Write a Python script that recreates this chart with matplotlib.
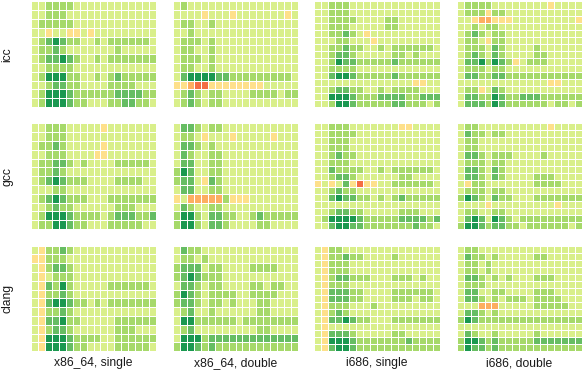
import numpy as np
import matplotlib
matplotlib.use("Agg")
import matplotlib.pyplot as plt
from matplotlib.colors import ListedColormap, BoundaryNorm

plt.rcParams['font.family'] = ['Liberation Sans', 'DejaVu Sans']

compilers = ["icc", "gcc", "clang"]
targets = ["x86_64, single", "x86_64, double", "i686, single", "i686, double"]

# Level codes per cell: 0..3 = increasingly good (green), y/o/r = worse (yellow, orange, red)
icc_x64_single = ["001111000000000000","001110000000000000","011111000000000000","00y00yy0y000000000",
"012321100101111110","011210000000100000","012232100101111111","001111000000000000",
"013331100101211111","001221100001111000","013332111111222211","013332110001122110"]
icc_x64_double = ["010000000000000000","0000y000y0000000y0","011001000000000000","001000000000000000",
"011101000000000000","011001000000000000","011101000000000000","011001000000000000",
"023333221111111110","yyorryyyyyyyy00000","012101100001111011","012101100000000000"]
icc_i686_single = ["001110000000000000","001110000000000000","001111000011000000","001110000011000000",
"0011210y0000000000","00011000y000000000","001121100101111110","001221000001101000",
"001322111112111111","001111000000000000","002332111112111111","00000000000000yy00",
"001221100101111000","003332111222211222","001332111112211101"]
icc_i686_double = ["0111100000000y0000","0111y1100000000000","00yooyyy000000000y","001011000000000000",
"012101100000000000","0110y1100000000000","011102100001000000","012102100001100000",
"02231321y011100000","011101100000000000","022112211111111111","0000000000000yy000",
"011y02100000000000","022113211222111111","022213211111101101"]
gcc_x64_single = ["0011100000y0000000","001110000000000000","0112100000y0000000","001110000yy0000000",
"011221010000111110","011210000000000000","012321110000111100","000110000000000000",
"012321110001111111","001211000000111000","013332111101222112","011332110001111100"]
gcc_x64_double = ["022101100000000000","0110y000y00000y000","022101000000000000","021001100000000000",
"022001100000000000","132001100000000000","1220y2100000000000","022001100000000000",
"y0ooooo1yyy0000000","021001100000000000","133102211001211111","133102210000110000"]
gcc_i686_single = ["001110000000yy0000","001111000000000000","001110000000000000","001110000000000000",
"001211000000000000","001110000000000000","002111100101111110","001221000000110000",
"y0y02yryy001111110","001211000000000000","002322110101211111","000000000000000000",
"001221100000111000","013333211111222212","002332211111112110"]
gcc_i686_double = ["0110000000000y0000","021101100000000000","011000000000000000","011000000000000000",
"022101110000100000","011101100000000000","022102100000000000","022102100001110000",
"0y1100000001111000","011101100000000000","132102110001111111","0000y000000000y000",
"011001100000000000","023203210111111111","133212211011111101"]
clang_x64_single = ["0y1121000000000000","yy1110000000000000","0y1221000000000000","0y0111000000000000",
"0y2131000001111110","0y1121000000000000","0y2332110101111111","0y1121000000000000",
"0y2231100000111111","0y1221000000111000","0y3332111100111111","0y3332110000111110"]
clang_x64_double = ["021100000000000000","011010000000000000","122201100001111000","123211100000000000",
"022101100001101100","132101111001111000","122101101000110000","012001000000110000",
"033111111011111111","012000000000110000","033312222222222222","133212111111111111"]
clang_i686_single = ["0y1100000000000000","0y1121100001000000","0y1110000000000000","0y1110000000000000",
"0y1221110001110100","0y1110000000000000","0y2221100001111110","0y2221100001110110",
"0y1110001000000000","0y1210000000000000","0y2232110001111111","0y0000000000000000",
"0y2221000001100000","0y3332111111121111","0y2332111111111111"]
clang_i686_double = ["011000000000000000","021101000001100000","011010000000000000","011010000000000000",
"022101010001110000","011100000000000000","022001100001110000","022101011101111000",
"000ooo000001111100","022101000000000000","132111111111111111","000000000000000000",
"021001000001000000","133212111112222222","132212111111111111"]

panels = [[icc_x64_single, icc_x64_double, icc_i686_single, icc_i686_double],
          [gcc_x64_single, gcc_x64_double, gcc_i686_single, gcc_i686_double],
          [clang_x64_single, clang_x64_double, clang_i686_single, clang_i686_double]]

code_value = {'r': -3, 'o': -2, 'y': -1, '0': 0, '1': 1, '2': 2, '3': 3}
colors = ['#f46d43', '#fdae61', '#fee08b', '#d9ef8b', '#a6d96a', '#66bd63', '#1a9850']
cmap = ListedColormap(colors)
norm = BoundaryNorm(np.arange(-3.5, 4.5, 1), cmap.N)

W, H = 583, 373
col_x = [(30.7, 156.3), (172.7, 298.3), (314.4, 440.0), (456.6, 582.2)]
row_y = [(1.5, 107.0), (123.3, 229.0), (245.6, 351.2)]

fig = plt.figure(figsize=(W / 100, H / 100), dpi=100, facecolor='white')
for r, row in enumerate(panels):
    for c, grid in enumerate(row):
        x0, x1 = col_x[c]
        y0, y1 = row_y[r]
        ax = fig.add_axes([x0 / W, 1 - y1 / H, (x1 - x0) / W, (y1 - y0) / H])
        vals = np.array([[code_value[ch] for ch in line] for line in grid])
        ax.pcolormesh(vals, cmap=cmap, norm=norm, edgecolors='white', linewidth=0.72)
        ax.invert_yaxis()
        ax.axis('off')
    fig.text(7.5 / W, 1 - (row_y[r][0] + row_y[r][1]) / 2 / H, compilers[r], rotation=90,
             ha='center', va='center', fontsize=8.7, color='#1a1a1a')
for c, t in enumerate(targets):
    fig.text((col_x[c][0] + col_x[c][1]) / 2 / W, 1 - 363 / H, t, ha='center', va='center',
             fontsize=8.7, color='#1a1a1a')
fig.savefig('out.png', dpi=100)
